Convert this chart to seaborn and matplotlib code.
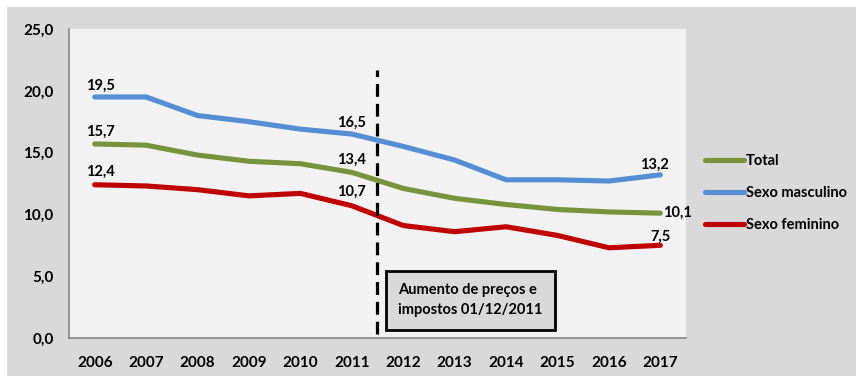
import matplotlib
matplotlib.use("Agg")
import matplotlib.pyplot as plt
import matplotlib.patches as mpatches
from matplotlib.lines import Line2D
import seaborn as sns
import pandas as pd

# dados
anos = ["2006", "2007", "2008", "2009", "2010", "2011",
        "2012", "2013", "2014", "2015", "2016", "2017"]
total = [15.7, 15.6, 14.8, 14.3, 14.1, 13.4, 12.1, 11.3, 10.8, 10.4, 10.2, 10.1]
masculino = [19.5, 19.5, 18.0, 17.5, 16.9, 16.5, 15.5, 14.4, 12.8, 12.8, 12.7, 13.2]
feminino = [12.4, 12.3, 12.0, 11.5, 11.7, 10.7, 9.1, 8.6, 9.0, 8.3, 7.3, 7.5]
series = ["Total", "Sexo masculino", "Sexo feminino"]
cores = {"Total": "#77933C", "Sexo masculino": "#558ED5", "Sexo feminino": "#C00000"}
anotacao = "Aumento de preços e\nimpostos 01/12/2011"
yticks = [0, 5, 10, 15, 20, 25]

# rótulos mostrados: (série, índice do ano, deslocamento em pontos)
rotulos = [("Sexo masculino", 0, (4, 8)), ("Sexo masculino", 5, (0, 8)), ("Sexo masculino", 11, (-4, 7)),
           ("Total", 0, (4, 9)), ("Total", 5, (0, 9)), ("Total", 11, None),
           ("Sexo feminino", 0, (4, 9)), ("Sexo feminino", 5, (0, 10)), ("Sexo feminino", 11, (0, 6))]

valores = {"Total": total, "Sexo masculino": masculino, "Sexo feminino": feminino}
df = pd.DataFrame([
    {"idx": i, "ano": a, "serie": s, "valor": valores[s][i]}
    for s in series for i, a in enumerate(anos)
])

sns.set_style("white")
plt.rcParams["font.family"] = ["Lato", "DejaVu Sans"]
plt.rcParams["font.weight"] = "bold"
plt.rcParams["text.color"] = "black"
plt.rcParams["xtick.color"] = "black"
plt.rcParams["ytick.color"] = "black"

fig = plt.figure(figsize=(8.62, 3.83), dpi=100)
fig.patch.set_facecolor("white")
fig.patches.append(mpatches.Rectangle((7 / 862, 7 / 383), 849 / 862, 369 / 383,
                                      transform=fig.transFigure, facecolor="#D9D9D9",
                                      edgecolor="none", zorder=-10))

ax = fig.add_axes([69 / 862, 45 / 383, 617 / 862, 309 / 383])
ax.set_facecolor("#F2F2F2")

sns.lineplot(data=df, x="idx", y="valor", hue="serie", hue_order=series,
             palette=cores, linewidth=3.7, ax=ax, legend=False,
             solid_capstyle="round")

ax.set_xlim(-0.5, len(anos) - 0.5)
ax.set_ylim(0, 25)
ax.set_yticks(yticks)
ax.set_yticklabels([f"{v:.1f}".replace(".", ",") for v in yticks])
ax.set_xticks([i - 0.5 for i in range(len(anos) + 1)])
ax.set_xticklabels([])
ax.set_xticks(range(len(anos)), minor=True)
ax.set_xticklabels(anos, minor=True)
ax.tick_params(axis="x", which="major", length=5, color="#868686", width=1, direction="out")
ax.tick_params(axis="x", which="minor", length=0, pad=13, labelsize=11)
ax.tick_params(axis="y", length=5, color="#868686", width=1, direction="out", labelsize=11, pad=6)
ax.set_xlabel("")
ax.set_ylabel("")
for lado in ["top", "right"]:
    ax.spines[lado].set_visible(False)
for lado in ["left", "bottom"]:
    ax.spines[lado].set_color("#868686")
    ax.spines[lado].set_linewidth(1.2)

# linha tracejada
ax.plot([5.5, 5.5], [0.3, 21.7], color="black", linestyle=(0, (4, 2.2)), linewidth=2.3)

# caixa de texto
ax.text(5.9, 3.05, anotacao, fontsize=10.5, fontweight="bold", va="center", ha="left",
        linespacing=1.55,
        bbox=dict(boxstyle="square,pad=0.85", facecolor="#D9D9D9", edgecolor="black", linewidth=2))

# rótulos de dados
for s, i, off in rotulos:
    v = valores[s][i]
    txt = f"{v:.1f}".replace(".", ",")
    if off is None:
        ax.annotate(txt, (i, v), xytext=(2, 0), textcoords="offset points", ha="left",
                    va="center", fontsize=10.5, fontweight="bold")
    else:
        ax.annotate(txt, (i, v), xytext=off, textcoords="offset points", ha="center",
                    va="center", fontsize=10.5, fontweight="bold")

# legenda
handles = [Line2D([], [], color=cores[s], linewidth=3.7, solid_capstyle="round") for s in series]
leg = fig.legend(handles, series, loc="center left", bbox_to_anchor=(692 / 862, 1 - 193 / 383),
                 frameon=False, handlelength=2.7, handletextpad=0.1, labelspacing=1.25,
                 prop={"weight": "bold", "size": 10.5})

fig.savefig("out.png", dpi=100)
